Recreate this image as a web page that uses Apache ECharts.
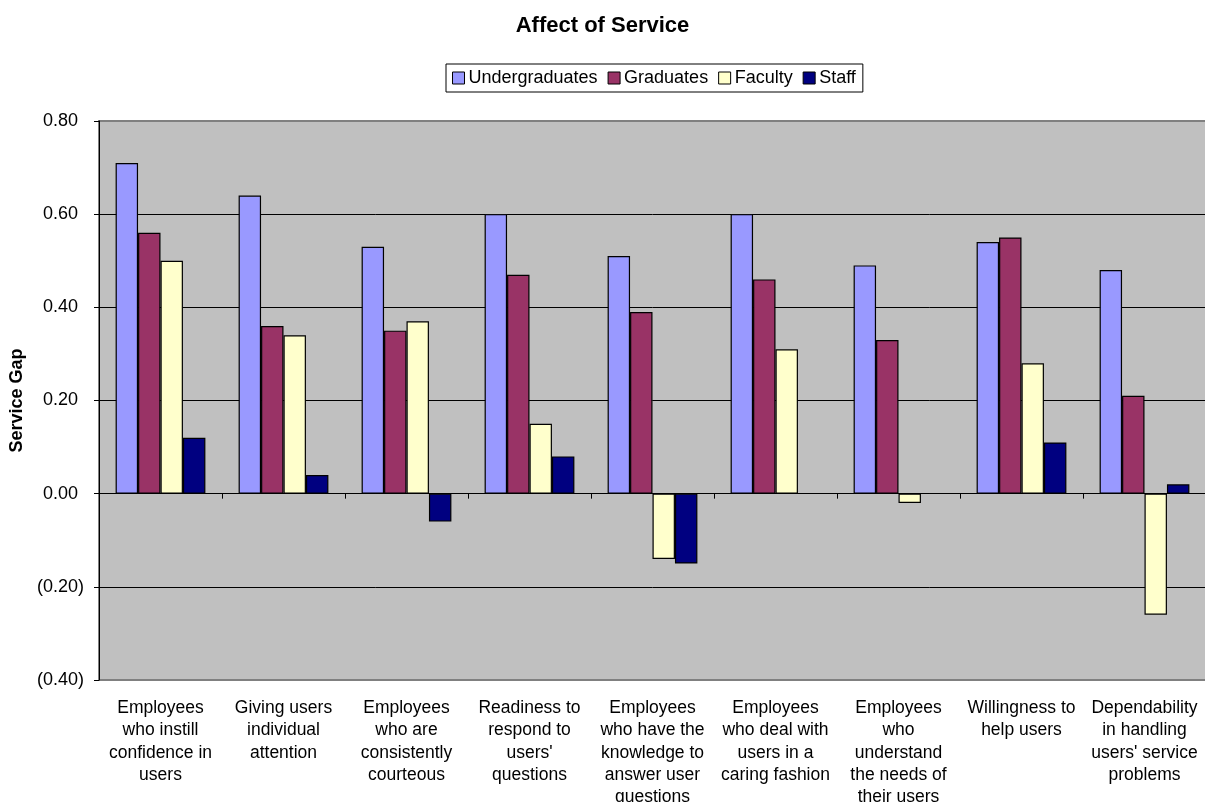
<!DOCTYPE html>
<html>
<head>
<meta charset="utf-8">
<script src="https://cdn.jsdelivr.net/npm/echarts@6/dist/echarts.min.js"></script>
<style>html,body{margin:0;padding:0;background:#fff;overflow:hidden}#c{width:1205px;height:802px}</style>
</head>
<body>
<div id="c"></div>
<script>
const categories = [
  "Employees\nwho instill\nconfidence in\nusers",
  "Giving users\nindividual\nattention",
  "Employees\nwho are\nconsistently\ncourteous",
  "Readiness to\nrespond to\nusers'\nquestions",
  "Employees\nwho have the\nknowledge to\nanswer user\nquestions",
  "Employees\nwho deal with\nusers in a\ncaring fashion",
  "Employees\nwho\nunderstand\nthe needs of\ntheir users",
  "Willingness to\nhelp users",
  "Dependability\nin handling\nusers' service\nproblems"
];
const undergraduates = [0.71, 0.64, 0.53, 0.60, 0.51, 0.60, 0.49, 0.54, 0.48];
const graduates      = [0.56, 0.36, 0.35, 0.47, 0.39, 0.46, 0.33, 0.55, 0.21];
const faculty        = [0.50, 0.34, 0.37, 0.15, -0.14, 0.31, -0.02, 0.28, -0.26];
const staff          = [0.12, 0.04, -0.06, 0.08, -0.15, null, null, 0.11, 0.02];
const yTicks = { min: -0.4, max: 0.8, interval: 0.2 };

const FONT = '"Liberation Sans", Arial, sans-serif';
const chart = echarts.init(document.getElementById('c'), null, { renderer: 'canvas' });

function mkSeries(name, data, color) {
  return {
    name: name, type: 'bar', data: data, xAxisIndex: 0,
    barGap: '0%', barCategoryGap: '27%',
    itemStyle: { color: color, borderColor: '#000', borderWidth: 1.2 },
    emphasis: { disabled: true }
  };
}

chart.setOption({
  animation: false,
  backgroundColor: '#fff',
  textStyle: { fontFamily: FONT, color: '#000' },
  title: {
    text: 'Affect of Service', left: 'center', top: 10,
    textStyle: { fontFamily: FONT, fontSize: 22, fontWeight: 'bold', color: '#000' }
  },
  legend: {
    left: 446, top: 64,
    itemWidth: 12, itemHeight: 12, itemGap: 10,
    padding: [5, 7, 5, 6],
    borderColor: '#000', borderWidth: 1, backgroundColor: '#fff',
    icon: 'rect',
    textStyle: { fontFamily: FONT, fontSize: 18, color: '#000', padding: [0, 0, 0, -1] },
    itemStyle: { borderColor: '#000', borderWidth: 1 },
    data: ['Undergraduates', 'Graduates', 'Faculty', 'Staff']
  },
  grid: {
    left: 99, right: -1, top: 121, bottom: 122,
    show: true, backgroundColor: '#C0C0C0', borderColor: '#808080', borderWidth: 2,
    containLabel: false, outerBoundsMode: 'none'
  },
  xAxis: [
    {
      type: 'category', data: categories, position: 'bottom',
      axisLine: { show: false, onZero: false },
      axisTick: { show: false },
      splitLine: { show: false },
      axisLabel: {
        interval: 0, margin: 17, fontFamily: FONT, fontSize: 17.5, color: '#000',
        lineHeight: 22.3, align: 'center'
      }
    },
    {
      type: 'category', data: categories, position: 'bottom',
      axisLine: { show: true, onZero: true, lineStyle: { color: '#000', width: 1 } },
      axisTick: { show: true, length: 5, lineStyle: { color: '#000' } },
      axisLabel: { show: false },
      splitLine: { show: false }
    }
  ],
  yAxis: {
    type: 'value', min: yTicks.min, max: yTicks.max, interval: yTicks.interval,
    name: 'Service Gap', nameLocation: 'middle', nameGap: 71, nameRotate: 90,
    nameTextStyle: { fontFamily: FONT, fontSize: 18, fontWeight: 'bold', color: '#000' },
    axisLine: { show: true, lineStyle: { color: '#000', width: 1 } },
    axisTick: { show: true, length: 5, lineStyle: { color: '#000' } },
    splitLine: { show: true, showMinLine: false, showMaxLine: false, lineStyle: { color: '#000', width: 1 } },
    axisLabel: {
      margin: 15, fontFamily: FONT, fontSize: 18, color: '#000',
      formatter: function (v) {
        const s = Math.abs(v).toFixed(2);
        return v < -1e-9 ? '(' + s + ')' : '{p|' + s + '}';
      },
      rich: { p: { fontFamily: FONT, fontSize: 18, color: '#000', padding: [0, 6, 0, 0] } }
    }
  },
  series: [
    mkSeries('Undergraduates', undergraduates, '#9999FF'),
    mkSeries('Graduates', graduates, '#993366'),
    mkSeries('Faculty', faculty, '#FFFFCC'),
    mkSeries('Staff', staff, '#000080')
  ]
});
</script>
</body>
</html>
